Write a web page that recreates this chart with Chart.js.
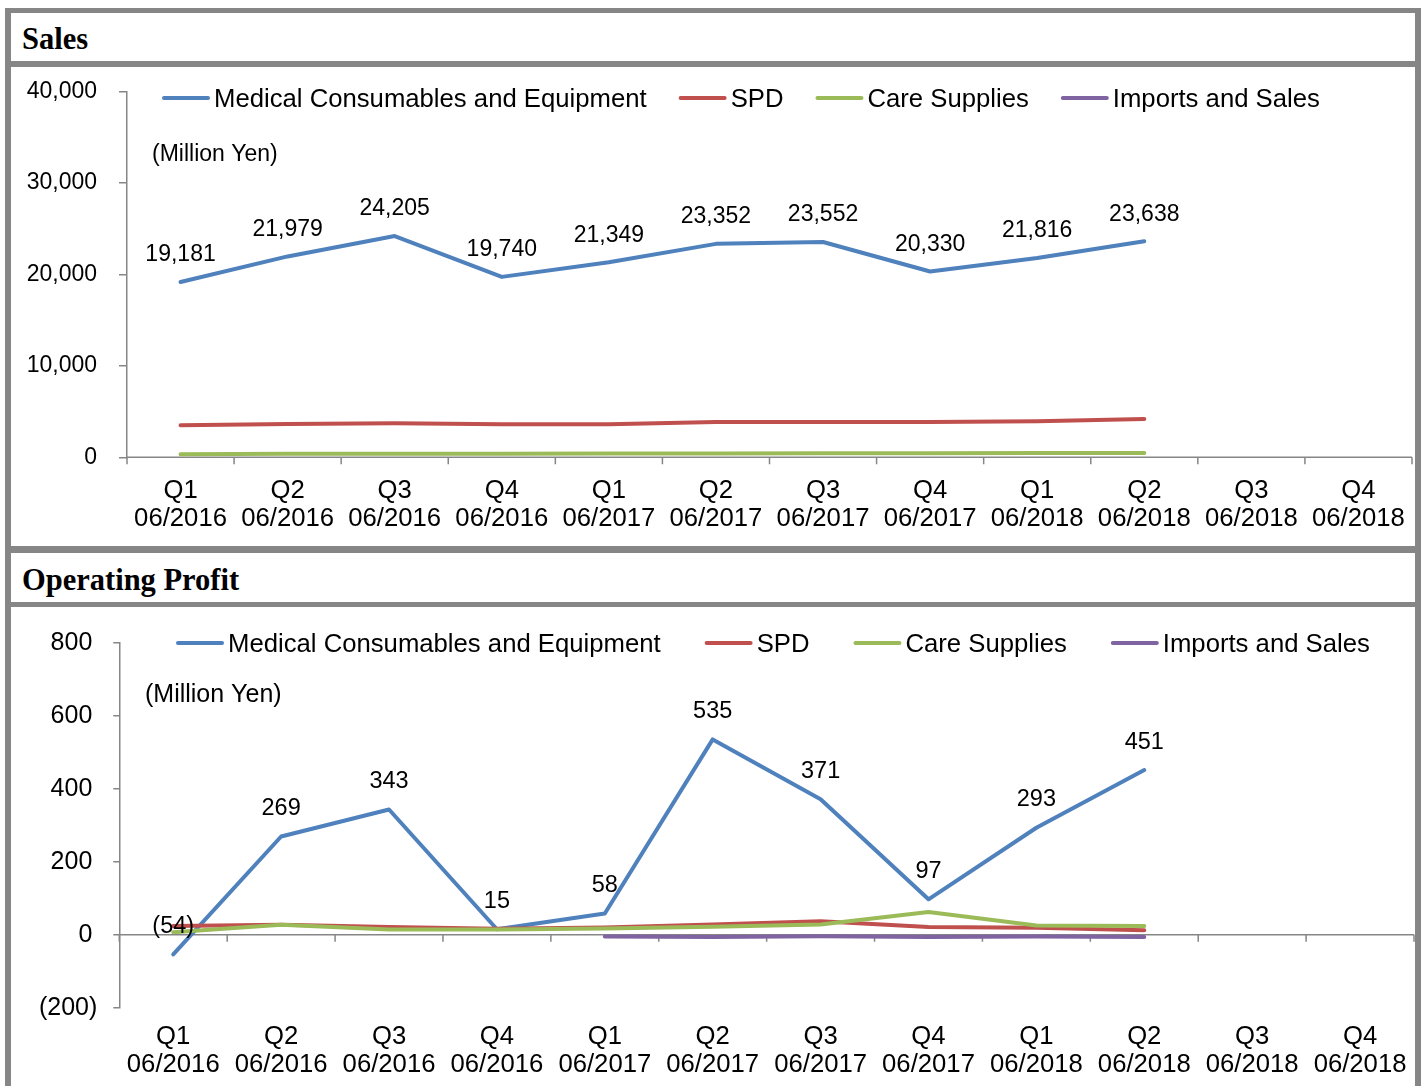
<!DOCTYPE html>
<html>
<head>
<meta charset="utf-8">
<script src="https://cdn.jsdelivr.net/npm/chart.js@4/dist/chart.umd.min.js"></script>
<style>
  html, body { margin: 0; padding: 0; background: #fff; }
  body { width: 1424px; height: 1086px; position: relative; overflow: hidden; font-family: "Liberation Sans", Arial, sans-serif; }
  .gray { position: absolute; background: #868686; }
  .title { position: absolute; left: 11px; width: 1404px; font-family: "Liberation Serif", "Times New Roman", serif; font-weight: bold; font-size: 30.5px; color: #000; box-sizing: border-box; padding-left: 11px; }
  canvas { position: absolute; left: 11px; }
</style>
</head>
<body>
<div class="gray" style="left:5px;top:8px;width:6px;height:1078px"></div>
<div class="gray" style="left:5px;top:8px;width:1416px;height:5px"></div>
<div class="gray" style="left:1415px;top:8px;width:6px;height:1078px"></div>
<div class="title" style="top:13px;height:48px;line-height:53px">Sales</div>
<div class="gray" style="left:5px;top:61px;width:1416px;height:6px"></div>
<canvas id="salesChart" width="1404" height="479" style="top:67px"></canvas>
<div class="gray" style="left:5px;top:546px;width:1416px;height:7px"></div>
<div class="title" style="top:553px;height:49px;line-height:54px">Operating Profit</div>
<div class="gray" style="left:5px;top:602px;width:1416px;height:5px"></div>
<canvas id="profitChart" width="1404" height="479" style="top:607px"></canvas>

<script>
// categories
const quarters = ['Q1', 'Q2', 'Q3', 'Q4', 'Q1', 'Q2', 'Q3', 'Q4', 'Q1', 'Q2', 'Q3', 'Q4'];
const periods = ['06/2016', '06/2016', '06/2016', '06/2016', '06/2017', '06/2017', '06/2017', '06/2017', '06/2018', '06/2018', '06/2018', '06/2018'];
const seriesNames = ['Medical Consumables and Equipment', 'SPD', 'Care Supplies', 'Imports and Sales'];
const seriesColors = ['#4F81BD', '#C0504D', '#9BBB59', '#8064A2'];

// sales (million yen)
const salesMedical = [19181, 21979, 24205, 19740, 21349, 23352, 23552, 20330, 21816, 23638, null, null];
const salesSPD = [3500, 3650, 3720, 3620, 3620, 3850, 3860, 3860, 3940, 4190, null, null];
const salesCare = [340, 380, 390, 400, 410, 420, 440, 450, 460, 470, null, null];
const salesImports = [null, null, null, null, null, null, null, null, null, null, null, null];
const salesTicks = [0, 10000, 20000, 30000, 40000];

// operating profit (million yen)
const profitMedical = [-54, 269, 343, 15, 58, 535, 371, 97, 293, 451, null, null];
const profitSPD = [24, 27, 21, 16, 20, 28, 37, 21, 19, 12, null, null];
const profitCare = [7, 27, 14, 14, 17, 22, 28, 62, 25, 24, null, null];
const profitImports = [null, null, null, null, -5, -6, -4, -6, -5, -6, null, null];
const profitTicks = [-200, 0, 200, 400, 600, 800];

const FONT = '"Liberation Sans", Arial, sans-serif';
const AXIS_GRAY = '#868686';

const fmtComma = v => Number(v).toLocaleString('en-US');
const fmtParen = v => v < 0 ? '(' + Math.abs(v).toLocaleString('en-US') + ')' : Number(v).toLocaleString('en-US');
// axis labels keep room for the closing parenthesis, like the spreadsheet format
const fmtParenAxis = v => v < 0 ? fmtParen(v) : fmtParen(v) + '\u2009';

// axis line at zero with tick marks between categories, drawn under the lines
function zeroAxis(tickLength) {
    return {
        id: 'zeroAxis',
        beforeDatasetsDraw(chart) {
            const { ctx, chartArea } = chart;
            const xs = chart.scales.x, ys = chart.scales.y;
            const y0 = ys.getPixelForValue(0);
            const half = (xs.getPixelForValue(1) - xs.getPixelForValue(0)) / 2;
            ctx.save();
            ctx.strokeStyle = AXIS_GRAY;
            ctx.lineWidth = 1.5;
            ctx.beginPath();
            ctx.moveTo(chartArea.left, y0);
            ctx.lineTo(chartArea.right, y0);
            for (let i = 0; i <= quarters.length; i++) {
                const x = xs.getPixelForValue(i) - half;
                ctx.moveTo(x, y0);
                ctx.lineTo(x, y0 + tickLength);
            }
            ctx.stroke();
            ctx.restore();
        }
    };
}

// legend, unit note and data labels
function overlay(o) {
    return {
        id: 'overlay',
        afterDraw(chart) {
            const ctx = chart.ctx;
            ctx.save();
            ctx.fillStyle = '#000';
            ctx.textBaseline = 'middle';

            ctx.font = o.legendSize + 'px ' + FONT;
            let x = o.legendX;
            chart.data.datasets.forEach(ds => {
                ctx.strokeStyle = ds.borderColor;
                ctx.lineWidth = 4;
                ctx.lineCap = 'round';
                ctx.beginPath();
                ctx.moveTo(x + 2, o.legendY);
                ctx.lineTo(x + 46, o.legendY);
                ctx.stroke();
                x += 52;
                ctx.textAlign = 'left';
                ctx.fillText(ds.label, x, o.legendY + 1.5);
                x += ctx.measureText(ds.label).width + o.legendGap;
            });

            ctx.font = o.unitSize + 'px ' + FONT;
            ctx.fillText('(Million Yen)', o.unitX, o.unitY);

            ctx.font = o.labelSize + 'px ' + FONT;
            ctx.textAlign = 'center';
            const meta = chart.getDatasetMeta(0);
            const values = chart.data.datasets[0].data;
            meta.data.forEach((pt, i) => {
                if (values[i] === null) return;
                ctx.fillText(o.format(values[i]), pt.x, pt.y - o.labelOffset);
            });
            ctx.restore();
        }
    };
}

function makeChart(id, series, yTicks, cfg) {
    const datasets = series.map((data, i) => ({
        label: seriesNames[i],
        data: data,
        borderColor: seriesColors[i],
        backgroundColor: seriesColors[i],
        borderWidth: 4,
        pointRadius: 0,
        pointHoverRadius: 0,
        tension: 0,
        borderCapStyle: 'round',
        borderJoinStyle: 'round',
        order: series.length - i
    }));

    return new Chart(document.getElementById(id), {
        type: 'line',
        data: {
            labels: quarters.map((q, i) => [q, periods[i]]),
            datasets
        },
        plugins: [zeroAxis(7), overlay(cfg.overlay)],
        options: {
            responsive: false,
            animation: false,
            devicePixelRatio: 1,
            events: [],
            layout: { padding: { left: 0, right: cfg.padRight, top: cfg.padTop, bottom: 0 } },
            plugins: {
                legend: { display: false },
                tooltip: { enabled: false }
            },
            scales: {
                x: {
                    offset: true,
                    grid: { display: false, drawTicks: false, offset: true },
                    border: { display: false },
                    ticks: {
                        color: '#000',
                        font: { family: FONT, size: 25.7, lineHeight: 1.1 },
                        padding: cfg.xPad,
                        maxRotation: 0,
                        autoSkip: false
                    },
                    afterFit: s => { s.height = cfg.xHeight; s.paddingLeft = 0; s.paddingRight = 0; }
                },
                y: {
                    min: yTicks[0],
                    max: yTicks[yTicks.length - 1],
                    afterBuildTicks: s => { s.ticks = yTicks.map(v => ({ value: v })); },
                    grid: { drawOnChartArea: false, drawTicks: true, tickLength: cfg.yTickLen, color: AXIS_GRAY, lineWidth: 1.5 },
                    border: { display: true, color: AXIS_GRAY, width: 1.5 },
                    ticks: {
                        color: '#000',
                        font: { family: FONT, size: cfg.ySize },
                        padding: cfg.yPad,
                        callback: v => cfg.axisFormat(v)
                    },
                    afterFit: s => { s.width = cfg.yWidth; s.paddingTop = 0; s.paddingBottom = 0; }
                }
            }
        }
    });
}

makeChart('salesChart', [salesMedical, salesSPD, salesCare, salesImports], salesTicks, {
    padTop: 24.7, padRight: 3, xHeight: 88.7, xPad: 19.5,
    yWidth: 116, yTickLen: 8, yPad: 22, ySize: 23, axisFormat: fmtComma,
    overlay: {
        legendX: 151, legendY: 31, legendGap: 32, legendSize: 25.7,
        unitX: 141, unitY: 88, unitSize: 23,
        labelSize: 23, labelOffset: 27, format: fmtComma
    }
});

makeChart('profitChart', [profitMedical, profitSPD, profitCare, profitImports], profitTicks, {
    padTop: 35.7, padRight: 1, xHeight: 78.3, xPad: 14.8,
    yWidth: 108.3, yTickLen: 6, yPad: 16, ySize: 25, axisFormat: fmtParenAxis,
    overlay: {
        legendX: 165, legendY: 36, legendGap: 44, legendSize: 25.7,
        unitX: 134, unitY: 88, unitSize: 25,
        labelSize: 23.5, labelOffset: 28, format: fmtParen
    }
});
</script>
</body>
</html>
